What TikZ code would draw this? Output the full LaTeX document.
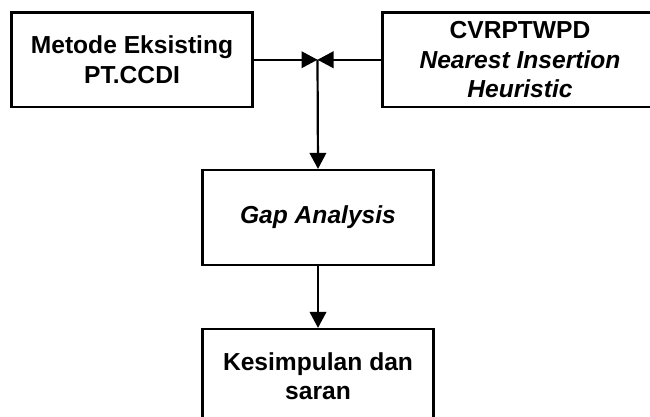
\documentclass[tikz,border=0pt]{standalone}
\usepackage{fontspec}
\setmainfont{Liberation Sans}
\usetikzlibrary{arrows.meta}
\begin{document}
\begin{tikzpicture}[x=1pt,y=-1pt,
  box/.style={draw=black,line width=2.2pt,fill=white,align=center,
    font=\fontsize{24.6}{29.5}\selectfont\bfseries,inner sep=0pt},
  link/.style={line width=2.2pt,-{Triangle[length=16pt,width=16.5pt]}}]
  \useasboundingbox (0,0) rectangle (650,417);
  \begin{scope}
  \clip (0,0) rectangle (650,417);
  % process boxes
  \node[box,minimum width=241pt,minimum height=94.5pt] (eks) at (132,59.75)
    {Metode Eksisting\\PT.CCDI};
  \node[box,minimum width=275pt,minimum height=94.5pt] (nih) at (520,59.75)
    {CVRPTWPD\\\textit{Nearest Insertion}\\\textit{Heuristic}};
  \node[box,minimum width=231pt,minimum height=95pt] (gap) at (318,217.5)
    {\textit{Gap Analysis}};
  \node[box,minimum width=231pt,minimum height=94.5pt] (kes) at (318,376.25)
    {Kesimpulan dan\\saran};
  % merging point of the two inputs
  \coordinate (join) at (317.5,59.75);
  \draw[link] (eks.east) -- (join);
  \draw[link] (nih.west) -- (join);
  \draw[link] (join) -- (gap.north);
  \draw[link] (gap.south) -- (kes.north);
  \end{scope}
\end{tikzpicture}
\end{document}
